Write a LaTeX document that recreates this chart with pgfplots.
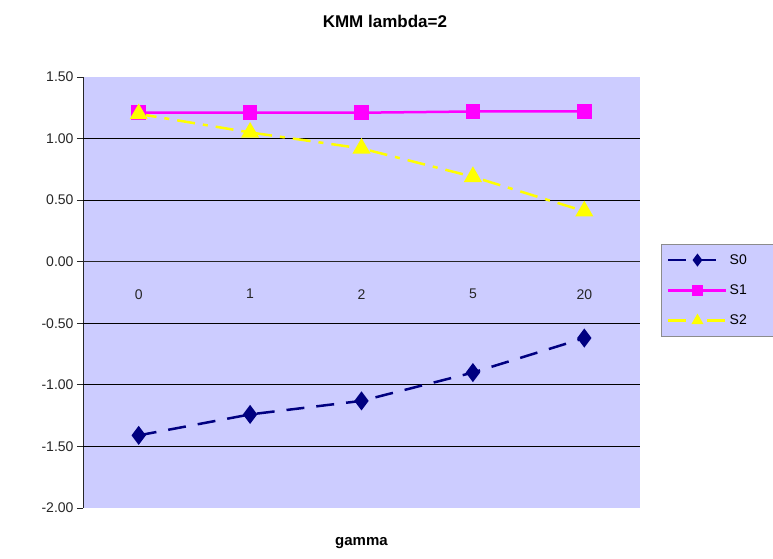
\documentclass[border=0pt]{standalone}
\usepackage{fontspec}
\setmainfont{Liberation Sans}
\usepackage{pgfplots}
\pgfplotsset{compat=1.18}

\definecolor{plotbg}{RGB}{204,204,255}
\definecolor{snavy}{RGB}{0,0,128}
\definecolor{smagenta}{RGB}{255,0,255}
\definecolor{syellow}{RGB}{255,255,0}

\begin{document}
\begin{tikzpicture}[x=1pt,y=1pt]
\useasboundingbox (-83,-50) rectangle (690,508);
\begin{axis}[
  scale only axis,
  width=557pt, height=431pt,
  xmin=-0.5, xmax=4.5,
  ymin=-2, ymax=1.5,
  axis background/.style={fill=plotbg},
  axis x line=middle, axis y line=left,
  axis line style={-, line width=1pt, black!85},
  xtick={0,1,2,3,4},
  xticklabels={0,1,2,5,20},
  major x tick style={draw=none},
  xticklabel style={yshift=-18pt},
  extra x ticks={0.5,1.5,2.5,3.5},
  extra x tick labels={},
  extra x tick style={major tick length=4pt, tick style={yshift=-2pt, line width=1pt, black!85}},
  ytick={-2,-1.5,...,1.5},
  tick align=outside,
  major tick length=6pt,
  tick style={line width=1pt, black!85},
  yticklabel style={/pgf/number format/.cd, fixed, fixed zerofill, precision=2},
  /pgf/number format/assume math mode=true,
  extra y ticks={-1.5,-1,-0.5,0.5,1},
  extra y tick labels={},
  extra y tick style={grid=major, major tick length=0pt},
  grid style={black, line width=1pt},
  tick label style={font=\fontsize{14}{16}\selectfont, text=black!85},
  title={\bfseries KMM lambda=2},
  title style={at={(axis description cs:0.542,1.116)}, anchor=center, font=\fontsize{17}{20}\selectfont},
  xlabel={\bfseries gamma},
  xlabel style={at={(axis description cs:0.5,-0.082)}, anchor=center, font=\fontsize{15}{18}\selectfont},
  legend style={at={(axis description cs:1.0377,0.612)}, anchor=north west, fill=plotbg, draw=black!45,
    font=\fontsize{14}{16}\selectfont, row sep=15pt, inner xsep=6pt, inner ysep=8pt},
  legend cell align=left,
  legend image post style={line width=2.5pt, mark size=4.5pt},
  legend image code/.code={\draw[mark repeat=2,mark phase=2] plot coordinates {(0pt,0pt) (29pt,0pt) (58pt,0pt)};},
]
\addplot[snavy, line width=2.5pt, dash pattern=on 18pt off 12pt, mark=diamond*, mark size=7.5pt, mark options={solid, fill=snavy}]
  coordinates {(0,-1.41) (1,-1.24) (2,-1.13) (3,-0.90) (4,-0.62)};
\addplot[smagenta, line width=2.5pt, mark=square*, mark size=6pt, mark options={solid, fill=smagenta}]
  coordinates {(0,1.21) (1,1.21) (2,1.21) (3,1.22) (4,1.22)};
\addplot[syellow, line width=2.5pt, dash pattern=on 18pt off 8pt on 5pt off 8pt, mark=triangle*, mark size=8pt, mark options={solid, fill=syellow}]
  coordinates {(0,1.20) (1,1.05) (2,0.92) (3,0.69) (4,0.41)};
\legend{\makebox[36pt][l]{S0},\makebox[36pt][l]{S1},\makebox[36pt][l]{S2}}
\end{axis}
\end{tikzpicture}
\end{document}
